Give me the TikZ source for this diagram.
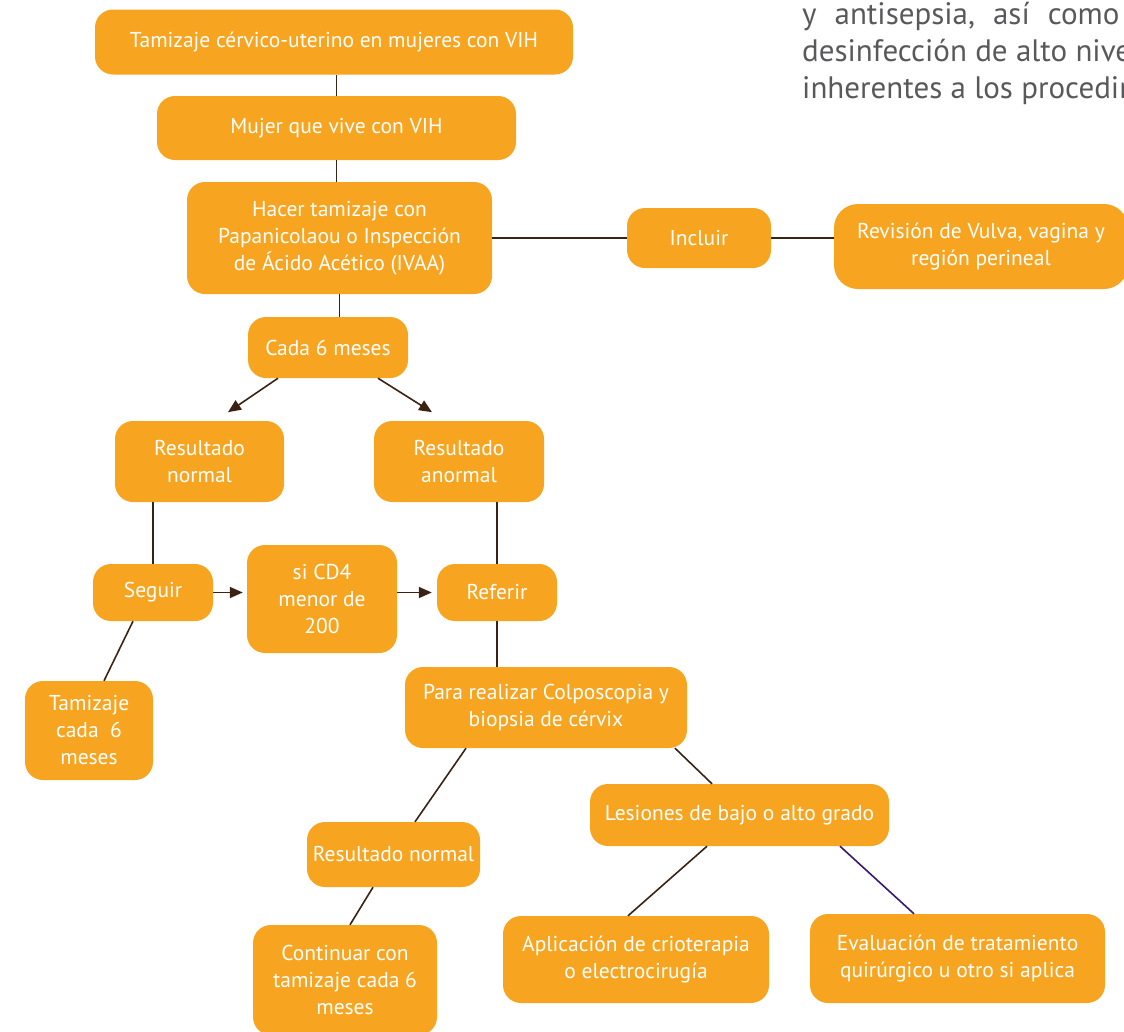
\documentclass[tikz,border=0pt]{standalone}
\usepackage{fontspec}
\setmainfont{PT Sans}
\usetikzlibrary{arrows.meta}
\definecolor{boxor}{HTML}{F7A520}
\definecolor{lnk}{HTML}{3B2314}
\definecolor{lnkp}{HTML}{3A1870}
\definecolor{graytxt}{HTML}{58595B}
\begin{document}
\begin{tikzpicture}[x=1pt,y=-1pt,
  box/.style={fill=boxor, rounded corners=18pt, text=white, align=center,
    font=\fontsize{21.5}{27}\selectfont, inner sep=0pt},
  conn/.style={draw=lnk, line width=1.6pt},
  connp/.style={draw=lnkp, line width=1.6pt},
  arr/.style={conn, -{Triangle[length=13pt,width=11pt]}},
  side/.style={text=graytxt, anchor=base west, inner sep=0pt,
    font=\fontsize{31}{37}\selectfont}]
\useasboundingbox (0,0) rectangle (1124,1031);
\begin{scope}
\clip (0,0) rectangle (1124,1031);
% side text (cut off at the right edge, as in the reference)
\node[side] (s1) at (802,24) {y\hspace{18pt}antisepsia,\hspace{18pt}así\hspace{18pt}como};
\node[side] (s2) at (802,61) {desinfección de alto nivel};
\node[side] (s3) at (802,98) {inherentes a los procedimientos};
% boxes
\node[box, minimum width=478pt, minimum height=65pt] (t1) at (334,42) {Tamizaje cérvico-uterino en mujeres con VIH};
\node[box, minimum width=359pt, minimum height=64pt] (t2) at (336.5,128) {Mujer que vive con VIH};
\node[box, minimum width=305pt, minimum height=112pt] (t3) at (339.5,238) {Hacer tamizaje con\\Papanicolaou o Inspección\\de Ácido Acético (IVAA)};
\node[box, minimum width=144pt, minimum height=60pt] (inc) at (699,238) {Incluir};
\node[box, rounded corners=24pt, minimum width=294pt, minimum height=85pt] (rev) at (981,246.5) {Revisión de Vulva, vagina y\\región perineal};
\node[box, minimum width=160pt, minimum height=61pt] (cada) at (328,347.5) {Cada 6 meses};
\node[box, minimum width=169pt, minimum height=81pt] (rn) at (199.5,461.5) {Resultado\\normal};
\node[box, minimum width=170pt, minimum height=81pt] (ra) at (459,461.5) {Resultado\\anormal};
\node[box, minimum width=120pt, minimum height=57pt] (seg) at (153,592.5) {Seguir};
\node[box, minimum width=150pt, minimum height=108pt] (cd4) at (322,599) {si CD4\\menor de\\200};
\node[box, minimum width=120pt, minimum height=57pt] (ref) at (497,592.5) {Referir};
\node[box, minimum width=128pt, minimum height=99pt] (tam) at (89,730.5) {Tamizaje\\cada\ \ 6\\meses};
\node[box, minimum width=282pt, minimum height=81pt] (col) at (546,707.5) {Para realizar Colposcopia y\\biopsia de cérvix};
\node[box, minimum width=299pt, minimum height=62pt] (les) at (739.5,815) {Lesiones de bajo o alto grado};
\node[box, minimum width=173pt, minimum height=65pt] (rn2) at (393.5,854.5) {Resultado normal};
\node[box, minimum width=184pt, minimum height=110pt] (cont) at (345,980) {Continuar con\\tamizaje cada 6\\meses};
\node[box, minimum width=266pt, minimum height=87pt] (apl) at (636,959.5) {Aplicación de crioterapia\\o electrocirugía};
\node[box, minimum width=295pt, minimum height=89pt] (eva) at (957.5,958.5) {Evaluación de tratamiento\\quirúrgico u otro si aplica};
% connectors
\draw[conn] (t2.north) -- (t2.north |- t1.south);
\draw[conn] (t2.south) -- (t2.south |- t3.north);
\draw[conn] (t3.east) -- (inc.west);
\draw[conn] (inc.east) -- (inc.east -| rev.west);
\draw[conn] (t3.south) -- (t3.south |- cada.north);
\draw[arr] ([xshift=-50pt]cada.south) -- ([xshift=-100pt,yshift=-34pt]cada.south);
\draw[arr] ([xshift=50pt]cada.south) -- ([xshift=104pt,yshift=-34pt]cada.south);
\draw[conn] (seg.north) -- (seg.north |- rn.south);
\draw[arr, shorten >=4pt] (seg.east) -- (seg.east -| cd4.west);
\draw[arr, shorten >=5pt] (cd4.east |- ref.west) -- (ref.west);
\draw[conn] (ref.north) -- (ref.north |- ra.south);
\draw[conn] (ref.south) -- (ref.south |- col.north);
\draw[conn] ([xshift=-20pt]seg.south) -- ([xshift=15pt]tam.north);
\draw[conn] ([xshift=-80pt]col.south) -- ([xshift=21.5pt]rn2.north);
\draw[conn] ([xshift=129pt]col.south) -- ([xshift=-27.5pt]les.north);
\draw[conn] ([xshift=-32.5pt]les.south) -- ([xshift=-8pt]apl.north);
\draw[connp] ([xshift=100.5pt]les.south) -- ([xshift=-43.5pt]eva.north);
\draw[conn] ([xshift=-20.5pt]rn2.south) -- ([xshift=5pt]cont.north);
\end{scope}
\end{tikzpicture}
\end{document}
